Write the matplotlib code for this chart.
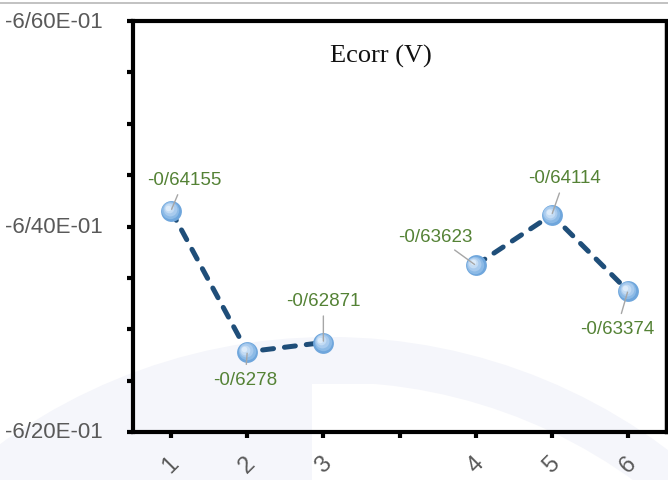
import numpy as np
import matplotlib.pyplot as plt
from matplotlib.patches import Ellipse, Rectangle
from matplotlib.lines import Line2D
from matplotlib.transforms import ScaledTranslation

# data (Persian-style "/" decimal separator kept as in the source chart)
samples = ['1', '2', '3', '', '4', '5', '6']
ecorr = [-0.64155, -0.6278, -0.62871, np.nan, -0.63623, -0.64114, -0.63374]
value_labels = ['-0/64155', '-0/6278', '-0/62871', '', '-0/63623', '-0/64114', '-0/63374']
# label offsets in pixels relative to the point
label_offsets = [(13, 31), (-2, -28), (0, 42), None, (-40, 29), (13, 37), (-11, -38)]

y_ticks = np.arange(-0.66, -0.6199, 0.005)
y_tick_text = {-0.66: '-6/60E-01', -0.64: '-6/40E-01', -0.62: '-6/20E-01'}

fig = plt.figure(figsize=(6.68, 4.81), dpi=100)
W, H = 668, 481

# faint watermark arc in the background
wm = '#f5f6fb'
cx, cy = 330 / W, 1 - 900 / H
disc = Ellipse((cx, cy), 2 * 562 / W, 2 * 562 / H, transform=fig.transFigure,
               fc=wm, ec='none', zorder=-5)
fig.add_artist(disc)
inner = Ellipse((cx, cy), 2 * 517 / W, 2 * 517 / H, transform=fig.transFigure,
                fc='white', ec='none', zorder=-4)
clip = Rectangle((312 / W, 0), 1, 1 - 385 / H, transform=fig.transFigure)
fig.add_artist(inner)
inner.set_clip_path(clip)

# thin gray line along the top of the image
fig.add_artist(Line2D([0, 1], [1 - 4 / H, 1 - 4 / H], transform=fig.transFigure,
                      color='#b8b8b8', lw=1.2))

ax = fig.add_axes([133 / W, 1 - 433 / H, (666 - 133) / W, (433 - 22) / H])
ax.patch.set_alpha(0)

x = np.arange(1, len(samples) + 1)
ax.plot(x, ecorr, color='#1f4e79', lw=3.6, ls=(0, (2.2, 2.2)),
        dash_capstyle='round', zorder=2)

# shaded "sphere" markers
shades = [(15, '#6fa6dc', 0, 0), (12.5, '#8cbae6', -0.5, 0.5), (10, '#a9cbee', -1.0, 1.0),
          (7, '#c4dcf4', -1.6, 1.6), (4, '#dcebfa', -2.1, 2.1)]
for ms, col, dx, dy in shades:
    shift = ax.transData + ScaledTranslation(dx / 72, dy / 72, fig.dpi_scale_trans)
    ax.plot(x, ecorr, 'o', ms=ms, color=col, mec='none', ls='none', zorder=3,
            transform=shift)

for xi, yi, txt, off in zip(x, ecorr, value_labels, label_offsets):
    if off is None:
        continue
    ax.annotate(txt, (xi, yi), xytext=off, textcoords='offset pixels',
                ha='center', va='center', fontsize=13.5, color='#548235',
                family='Liberation Sans',
                bbox=dict(boxstyle='square,pad=0.15', fc='none', ec='none'),
                arrowprops=dict(arrowstyle='-', color='#a6a6a6', lw=1,
                                shrinkA=3, shrinkB=1),
                zorder=4)

ax.text(0.465, 0.915, 'Ecorr (V)', transform=ax.transAxes, ha='center', va='center',
        fontsize=19, family='Liberation Serif', color='#111111')

ax.set_xlim(0.5, len(samples) + 0.5)
ax.set_ylim(-0.62, -0.66)

ax.set_xticks(x)
ax.set_xticklabels(samples, rotation=45, ha='center', va='center',
                   fontsize=17, color='#595959', family='Liberation Sans')
ax.tick_params(axis='x', length=4, width=3, pad=19, color='black')

ax.set_yticks(y_ticks)
ax.set_yticklabels([y_tick_text.get(round(v, 3), '') for v in y_ticks],
                   fontsize=16, color='#595959', family='Liberation Sans')
ax.tick_params(axis='y', length=4, width=3, pad=18, color='black')
for lab in ax.get_yticklabels():
    lab.set_verticalalignment('center')

for side in ['left', 'bottom', 'top']:
    ax.spines[side].set_linewidth(3)
ax.spines['right'].set_linewidth(2.5)

fig.savefig('out.png', dpi=100)
